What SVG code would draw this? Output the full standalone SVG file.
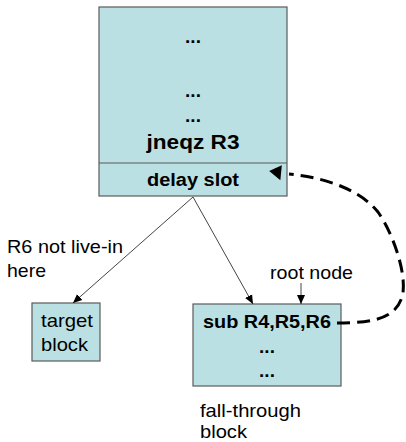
<svg xmlns="http://www.w3.org/2000/svg" width="406" height="442" viewBox="0 0 406 442">
  <style>
    .box { fill: #BBE0E3; stroke: #5a5a5a; stroke-width: 1.2; }
    .t { font-family: "Liberation Sans", Arial, sans-serif; font-size: 19px; fill: #000; }
    .b { font-weight: bold; }
    .edge { stroke: #444; stroke-width: 1; fill: none; }
    .dash { stroke: #000; stroke-width: 3; fill: none; stroke-dasharray: 13 7; }
  </style>
  <defs>
    <marker id="arrow" markerUnits="userSpaceOnUse" markerWidth="10" markerHeight="10" viewBox="0 -5 10 10" refX="9" refY="0" orient="auto">
      <path d="M0,-4 L9,0 L0,4 Z" fill="#000"/>
    </marker>
    <marker id="bigArrow" markerUnits="userSpaceOnUse" markerWidth="24" markerHeight="18" viewBox="0 -9 24 18" refX="0" refY="0" orient="auto">
      <path d="M8,-7 L20,1 L8,8 Z" fill="#000"/>
    </marker>
  </defs>

  <!-- basic block ending in the conditional jump -->
  <g id="top-block">
    <rect class="box" x="99" y="7" width="188" height="189"/>
    <line x1="99" y1="163" x2="287" y2="163" stroke="#5a5a5a" stroke-width="1.2"/>
    <text class="t b" x="193" y="43" text-anchor="middle">...</text>
    <text class="t b" x="193" y="97" text-anchor="middle">...</text>
    <text class="t b" x="193" y="122" text-anchor="middle">...</text>
    <text class="t b" x="193" y="149" text-anchor="middle" textLength="93" lengthAdjust="spacingAndGlyphs" style="font-size:20px">jneqz R3</text>
    <text class="t b" x="193" y="186" text-anchor="middle" textLength="92" lengthAdjust="spacingAndGlyphs" style="font-size:18px">delay slot</text>
  </g>

  <g id="target-block">
    <rect class="box" x="32" y="303" width="68" height="58"/>
    <text class="t" x="41" y="327" textLength="52" lengthAdjust="spacingAndGlyphs">target</text>
    <text class="t" x="41" y="351" textLength="47" lengthAdjust="spacingAndGlyphs">block</text>
  </g>

  <g id="fall-through-block">
    <rect class="box" x="193" y="304" width="148" height="82"/>
    <text class="t b" x="267" y="328" text-anchor="middle" textLength="128" lengthAdjust="spacingAndGlyphs">sub R4,R5,R6</text>
    <text class="t b" x="267" y="353" text-anchor="middle">...</text>
    <text class="t b" x="267" y="377" text-anchor="middle">...</text>
  </g>

  <!-- annotations -->
  <g id="labels">
    <text class="t" x="7" y="253" textLength="116" lengthAdjust="spacingAndGlyphs">R6 not live-in</text>
    <text class="t" x="7" y="277" textLength="39" lengthAdjust="spacingAndGlyphs">here</text>
    <text class="t" x="270" y="279" textLength="83" lengthAdjust="spacingAndGlyphs">root node</text>
    <text class="t" x="200" y="417" textLength="101" lengthAdjust="spacingAndGlyphs">fall-through</text>
    <text class="t" x="200" y="438" textLength="47" lengthAdjust="spacingAndGlyphs">block</text>
  </g>

  <g id="connectors">
    <line class="edge" x1="193" y1="197" x2="73" y2="303" marker-end="url(#arrow)"/>
    <line class="edge" x1="193" y1="197" x2="253" y2="304" marker-end="url(#arrow)"/>
    <line class="edge" x1="301" y1="283" x2="301" y2="304" marker-end="url(#arrow)"/>
    <path class="dash" d="M337,323 C375,323 398,318 403,293 C406,270 392,232 378,212 C362,192 330,178 289,174" marker-end="url(#bigArrow)"/>
  </g>
</svg>
